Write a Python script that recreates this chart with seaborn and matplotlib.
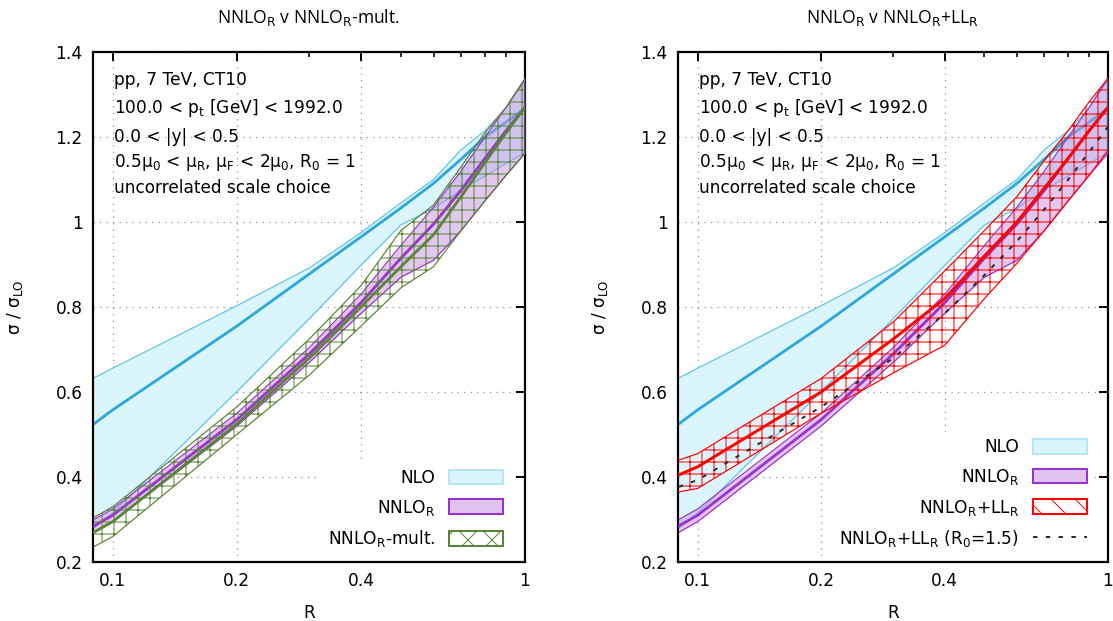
import numpy as np
import pandas as pd
import matplotlib
matplotlib.use("Agg")
import matplotlib.pyplot as plt
import seaborn as sns
from matplotlib.patches import Patch
from matplotlib.lines import Line2D
from matplotlib.ticker import FixedLocator, NullFormatter

# ---------------- data ----------------
R = [0.09, 0.1, 0.2, 0.3, 0.4, 0.5, 0.6, 0.7, 0.8, 0.9, 1.0]

nlo_c  = [0.525, 0.558, 0.755, 0.878, 0.965, 1.033, 1.091, 1.148, 1.200, 1.235, 1.268]
nlo_hi = [0.633, 0.656, 0.803, 0.892, 0.975, 1.045, 1.100, 1.170, 1.215, 1.268, 1.336]
nlo_lo = [0.280, 0.315, 0.601, 0.773, 0.898, 0.993, 1.032, 1.075, 1.108, 1.138, 1.163]

nnlo_c  = [0.285, 0.310, 0.535, 0.690, 0.810, 0.915, 0.995, 1.075, 1.150, 1.215, 1.270]
nnlo_hi = [0.300, 0.325, 0.550, 0.705, 0.830, 0.945, 1.035, 1.120, 1.200, 1.270, 1.338]
nnlo_lo = [0.270, 0.295, 0.520, 0.670, 0.785, 0.870, 0.910, 0.980, 1.050, 1.110, 1.162]

mult_c  = [0.270, 0.295, 0.525, 0.680, 0.800, 0.895, 0.970, 1.060, 1.140, 1.210, 1.270]
mult_hi = [0.305, 0.330, 0.565, 0.725, 0.850, 0.980, 1.040, 1.130, 1.210, 1.270, 1.335]
mult_lo = [0.236, 0.260, 0.500, 0.640, 0.755, 0.845, 0.895, 0.980, 1.050, 1.110, 1.162]

ll_c  = [0.405, 0.424, 0.600, 0.725, 0.820, 0.920, 1.000, 1.080, 1.150, 1.215, 1.270]
ll_hi = [0.440, 0.455, 0.632, 0.765, 0.885, 0.980, 1.060, 1.145, 1.215, 1.283, 1.338]
ll_lo = [0.365, 0.373, 0.550, 0.645, 0.710, 0.820, 0.903, 0.980, 1.050, 1.110, 1.169]

ll15_c = [0.377, 0.393, 0.565, 0.680, 0.785, 0.875, 0.955, 1.030, 1.100, 1.165, 1.224]

xticks = [0.1, 0.2, 0.4, 1.0]
xticklabels = ["0.1", "0.2", "0.4", "1"]
xminor = [0.3, 0.5, 0.6, 0.7, 0.8, 0.9]
yticks = [0.2, 0.4, 0.6, 0.8, 1.0, 1.2, 1.4]
yticklabels = ["0.2", "0.4", "0.6", "0.8", "1", "1.2", "1.4"]

info_lines = [
    "pp, 7 TeV, CT10",
    r"100.0 < p$_\mathrm{t}$ [GeV] < 1992.0",
    "0.0 < |y| < 0.5",
    r"0.5μ$_0$ < μ$_\mathrm{R}$, μ$_\mathrm{F}$ < 2μ$_0$, R$_0$ = 1",
    "uncorrelated scale choice",
]
titles = [r"NNLO$_\mathrm{R}$ v NNLO$_\mathrm{R}$-mult.",
          r"NNLO$_\mathrm{R}$ v NNLO$_\mathrm{R}$+LL$_\mathrm{R}$"]

# ---------------- style (dpi 72: 1 pt = 1 px) ----------------
sns.set_theme(style="white")
plt.rcParams['font.family'] = ['DejaVu Sans']
plt.rcParams['mathtext.fontset'] = 'dejavusans'
plt.rcParams['hatch.linewidth'] = 1.0
for k in ['text.color', 'axes.labelcolor', 'xtick.color', 'ytick.color']:
    plt.rcParams[k] = 'black'

FS = 17.0
C_NLO_FILL = "#dbf5fd"
C_NLO_EDGE = "#5cc2ea"
C_NLO_LINE = "#2ea7db"
C_PUR_FILL = "#c690e0"
C_PUR_LINE = "#9b32cf"
C_GRN = "#5a8438"
C_RED = "#ff0000"
C_DASH = "#2a2a2a"
DASH = (0, (2.2, 4.2))

df = pd.DataFrame(dict(R=R, nlo_c=nlo_c, nlo_hi=nlo_hi, nlo_lo=nlo_lo,
                       nnlo_c=nnlo_c, nnlo_hi=nnlo_hi, nnlo_lo=nnlo_lo,
                       mult_c=mult_c, mult_hi=mult_hi, mult_lo=mult_lo,
                       ll_c=ll_c, ll_hi=ll_hi, ll_lo=ll_lo, ll15_c=ll15_c))

fig = plt.figure(figsize=(1113 / 72, 621 / 72), dpi=72)
ax1 = fig.add_axes([92.7 / 1113, 59 / 621, 432.3 / 1113, 510 / 621])
ax2 = fig.add_axes([677.7 / 1113, 59 / 621, 430.3 / 1113, 510 / 621])


def line(ax, col, color, lw, z, **kw):
    sns.lineplot(data=df, x="R", y=col, ax=ax, color=color, linewidth=lw,
                 zorder=z, legend=False, estimator=None, sort=False, **kw)


def nlo(ax):
    ax.fill_between(df.R, df.nlo_lo, df.nlo_hi, color=C_NLO_FILL, lw=0, zorder=1)
    line(ax, "nlo_hi", C_NLO_EDGE, 1.2, 2)
    line(ax, "nlo_lo", C_NLO_EDGE, 1.2, 2)
    line(ax, "nlo_c", C_NLO_LINE, 2.8, 2.1)


def nnlo(ax):
    ax.fill_between(df.R, df.nnlo_lo, df.nnlo_hi, color=C_PUR_FILL, alpha=0.5, lw=0, zorder=3)
    line(ax, "nnlo_hi", C_PUR_LINE, 1.2, 3.1)
    line(ax, "nnlo_lo", C_PUR_LINE, 1.2, 3.1)
    line(ax, "nnlo_c", C_PUR_LINE, 2.8, 3.2)


def setup(ax, title):
    ax.set_xscale("log")
    ax.set_xlim(0.0894, 1.0)
    ax.set_ylim(0.2, 1.4)
    ax.xaxis.set_major_locator(FixedLocator(xticks))
    ax.set_xticklabels(xticklabels)
    ax.xaxis.set_minor_locator(FixedLocator(xminor))
    ax.xaxis.set_minor_formatter(NullFormatter())
    ax.set_yticks(yticks)
    ax.set_yticklabels(yticklabels)
    ax.tick_params(which="major", direction="in", length=9, width=2,
                   top=True, right=True, labelsize=FS, pad=10, color="black",
                   labelcolor="black")
    ax.tick_params(which="minor", direction="in", length=5, width=1.6,
                   top=True, right=True, color="black")
    ax.grid(True, which="major", linestyle=(0, (1, 4)), color="#999999", linewidth=1.3, zorder=0)
    ax.set_axisbelow(True)
    for s in ax.spines.values():
        s.set_color("black")
        s.set_linewidth(2.2)
    ax.set_xlabel("R", fontsize=FS, labelpad=14, color="black")
    ax.set_ylabel(r"σ / σ$_\mathrm{LO}$", fontsize=FS, labelpad=30, color="black")
    ax.set_title(title, fontsize=17.5, family="Open Sans", pad=29, color="black")
    ys = [0.945, 0.890, 0.834, 0.784, 0.734]
    for t, yy in zip(info_lines, ys):
        ax.text(0.05, yy, t, transform=ax.transAxes, fontsize=FS,
                va="center", ha="left", zorder=10, color="black")


def make_legend(ax, handles, labels, anchor):
    lg = ax.legend(handles, labels, loc="lower right", bbox_to_anchor=anchor,
                   markerfirst=False, fontsize=FS,
                   handlelength=3.2, handleheight=0.95, labelspacing=0.62,
                   handletextpad=0.8, borderaxespad=0.0, borderpad=0.4,
                   frameon=True, facecolor="white", edgecolor="white",
                   framealpha=1.0, fancybox=False, labelcolor="black")
    lg.set_zorder(20)
    return lg


# ---------- left panel ----------
nlo(ax1)
nnlo(ax1)
ax1.fill_between(df.R, df.mult_lo, df.mult_hi, facecolor="none", edgecolor=C_GRN,
                 hatch="+", lw=0, zorder=4)
line(ax1, "mult_hi", C_GRN, 1.2, 4.1)
line(ax1, "mult_lo", C_GRN, 1.2, 4.1)
line(ax1, "mult_c", C_GRN, 2.8, 4.2)
setup(ax1, titles[0])

h1 = [Patch(facecolor=C_NLO_FILL, edgecolor="#b5e6f7", lw=2),
      Patch(facecolor="#e0c2ef", edgecolor=C_PUR_LINE, lw=2),
      Patch(facecolor="white", edgecolor=C_GRN, hatch="x", lw=2)]
l1 = ["NLO", r"NNLO$_\mathrm{R}$", r"NNLO$_\mathrm{R}$-mult."]
make_legend(ax1, h1, l1, (0.965, 0.012))

# ---------- right panel ----------
nlo(ax2)
nnlo(ax2)
ax2.fill_between(df.R, df.ll_lo, df.ll_hi, facecolor="none", edgecolor=C_RED,
                 hatch="+", lw=0, zorder=4)
line(ax2, "ll_hi", C_RED, 1.2, 4.1)
line(ax2, "ll_lo", C_RED, 1.2, 4.1)
line(ax2, "ll_c", C_RED, 3.0, 4.2)
line(ax2, "ll15_c", C_DASH, 2.0, 4.3, linestyle=DASH)
setup(ax2, titles[1])

h2 = [Patch(facecolor=C_NLO_FILL, edgecolor="#b5e6f7", lw=2),
      Patch(facecolor="#e0c2ef", edgecolor=C_PUR_LINE, lw=2),
      Patch(facecolor="white", edgecolor=C_RED, hatch="\\", lw=2),
      Line2D([], [], color=C_DASH, lw=2, linestyle=DASH)]
l2 = ["NLO", r"NNLO$_\mathrm{R}$", r"NNLO$_\mathrm{R}$+LL$_\mathrm{R}$",
      r"NNLO$_\mathrm{R}$+LL$_\mathrm{R}$ (R$_0$=1.5)"]
make_legend(ax2, h2, l2, (0.9675, 0.012))

fig.savefig("out.png", dpi=72)
